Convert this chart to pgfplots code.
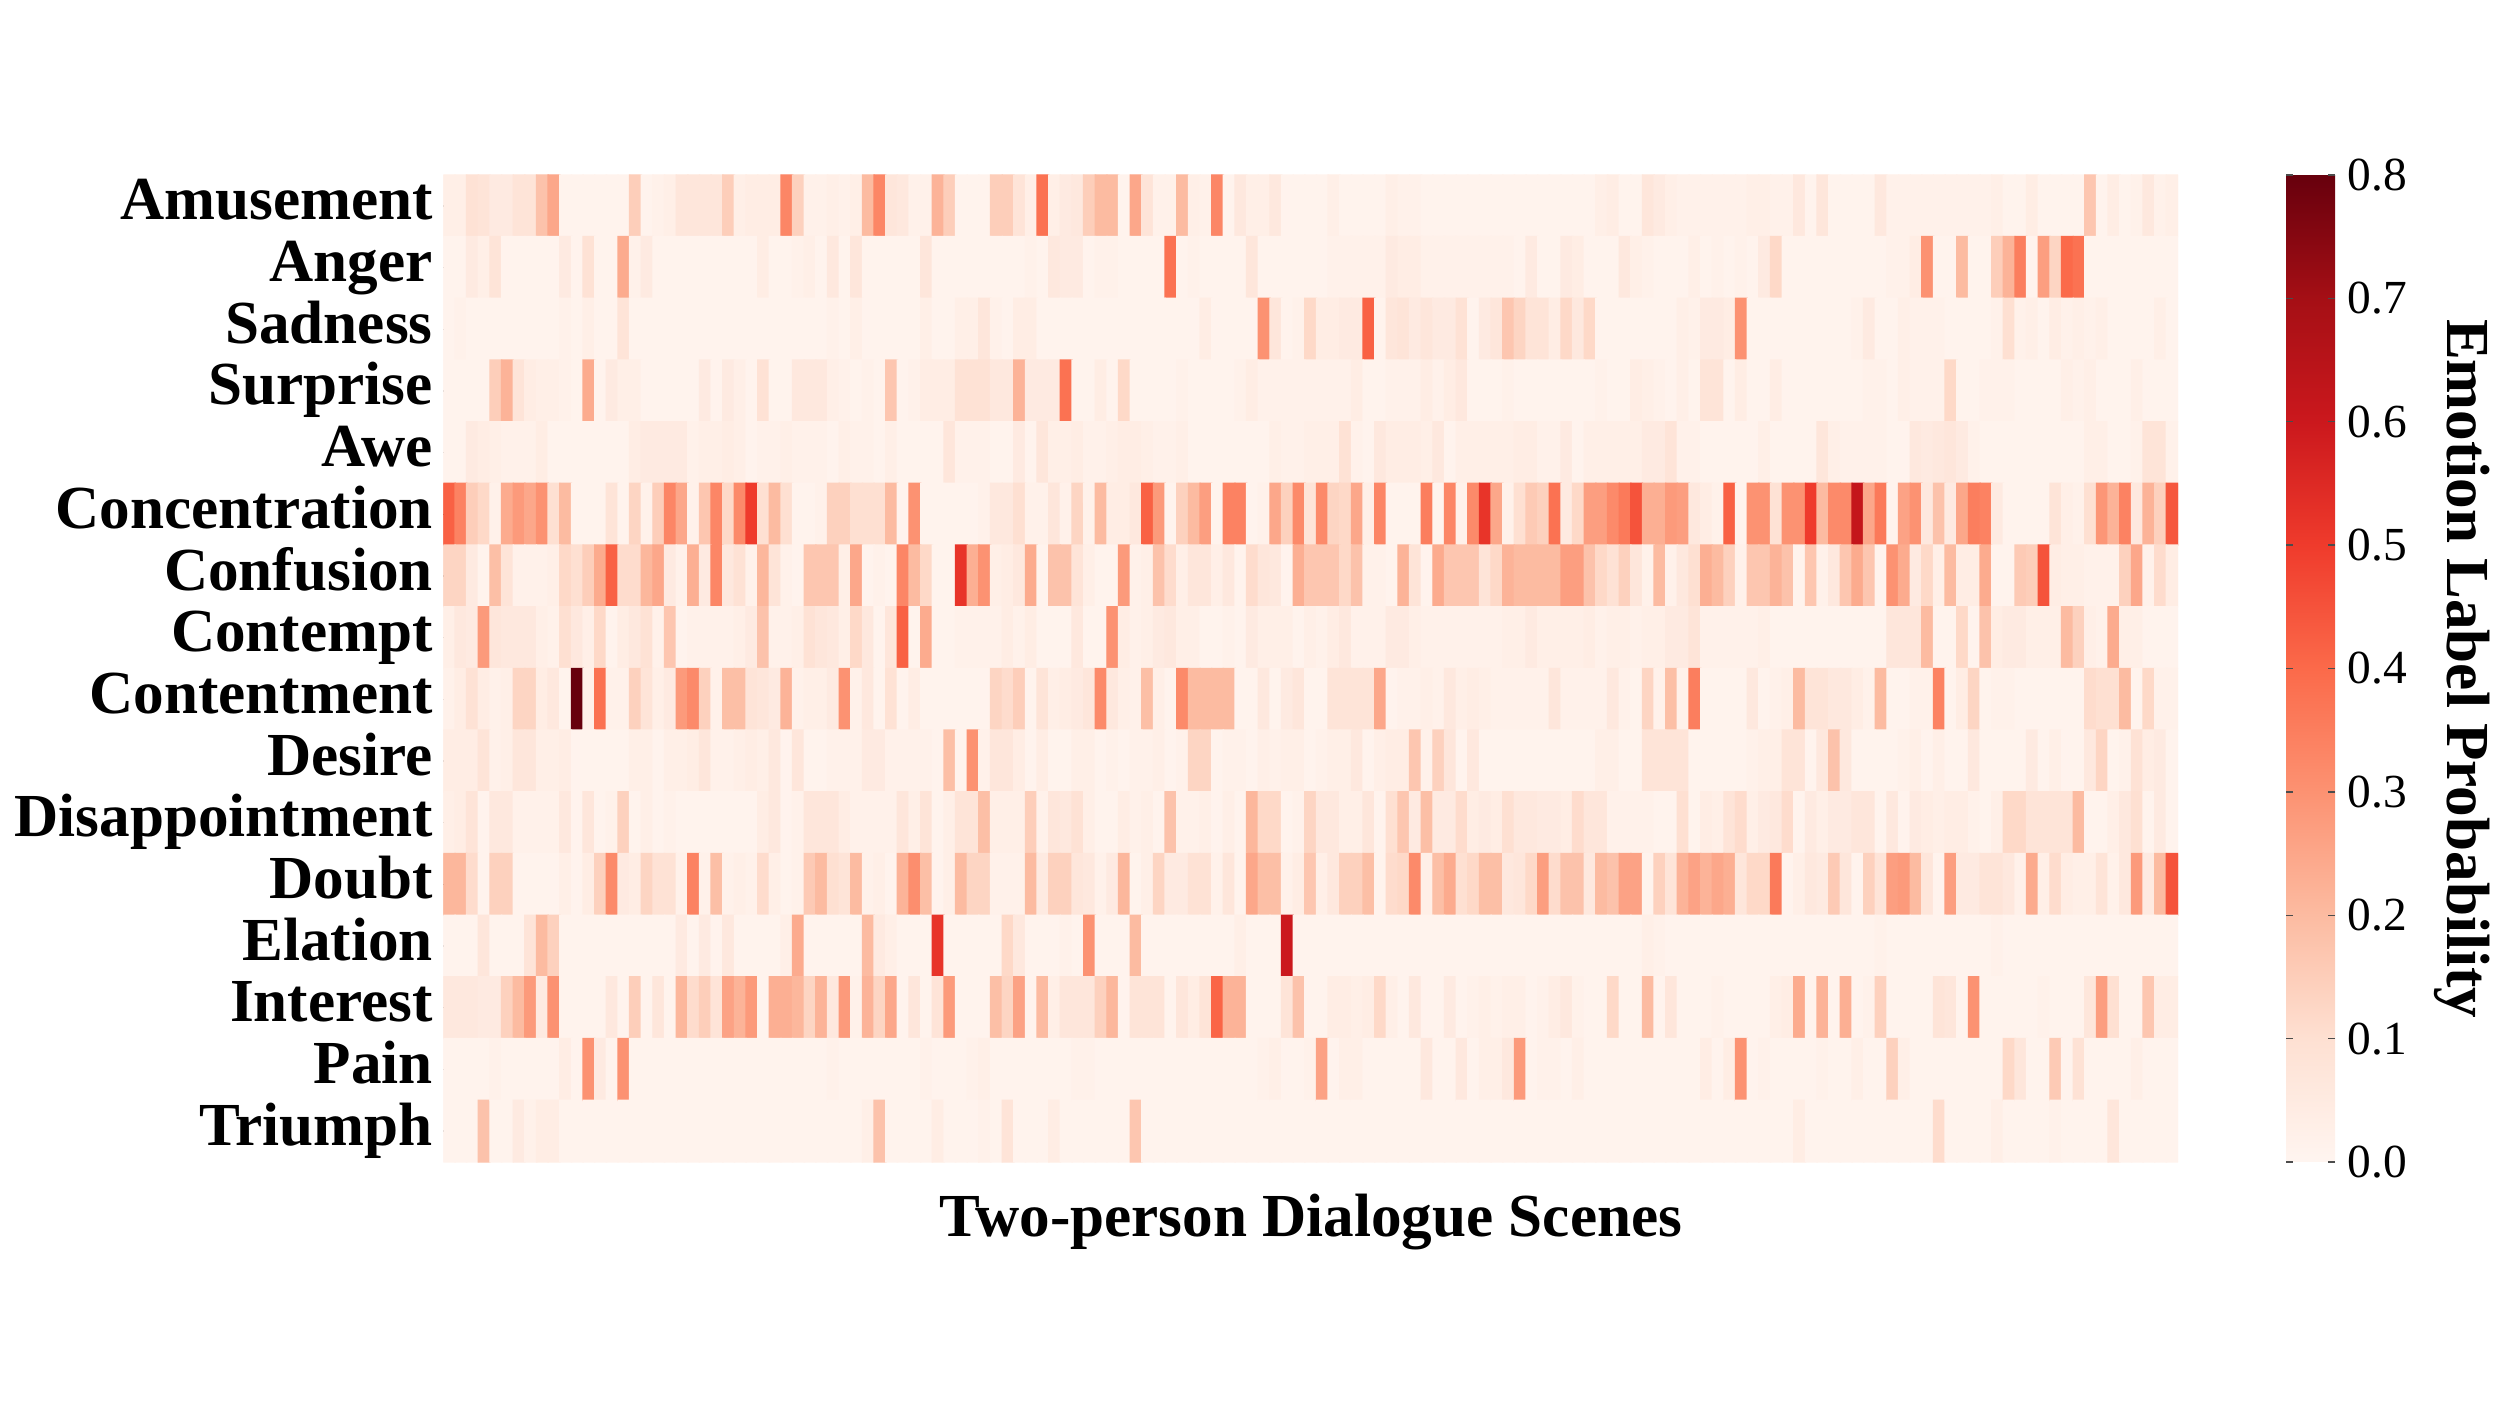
\documentclass[border=0pt]{standalone}
\usepackage{pgfplots}
\pgfplotsset{compat=1.18}
\usepackage{fontspec}
\setmainfont{Liberation Serif}
\pgfplotsset{colormap={hmreds}{rgb255=(255,245,240) rgb255=(254,224,210) rgb255=(252,187,161) rgb255=(252,146,114) rgb255=(251,106,74) rgb255=(239,59,44) rgb255=(203,24,29) rgb255=(165,15,21) rgb255=(103,0,13)}}
\newcommand{\lbl}{\bfseries\fontsize{17.4}{20}\selectfont}
\begin{document}
\begin{tikzpicture}
\path[use as bounding box] (0,0) rectangle (25cm,14.06cm);
\begin{axis}[
  at={(4.434cm,2.44cm)}, anchor=south west,
  scale only axis, width=17.346cm, height=9.87cm,
  xmin=-0.5, xmax=148.5, ymin=-0.5, ymax=15.5,
  y dir=reverse,
  xtick=\empty,
  ytick={0,1,...,15},
  yticklabels={Amusement,Anger,Sadness,Surprise,Awe,Concentration,Confusion,Contempt,Contentment,Desire,Disappointment,Doubt,Elation,Interest,Pain,Triumph},
  yticklabel style={font=\lbl, inner sep=0pt, text height=12pt, text depth=4pt, xshift=-0.10cm},
  major tick length=0.07cm,
  tick style={black!70, line width=0.4pt},
  tick pos=left,
  axis line style={draw=none},
  xlabel={\lbl Two-person Dialogue Scenes},
  xlabel style={at={(axis description cs:0.5,-0.061)}, anchor=center},
  colormap name=hmreds,
  point meta min=0, point meta max=0.8,
  colorbar,
  colorbar style={
    at={(1.0623,0)}, anchor=south west,
    width=0.49cm, height=9.87cm,
    ytick={0,0.1,0.2,0.3,0.4,0.5,0.6,0.7,0.8},
    yticklabel style={font=\fontsize{13.5}{16}\selectfont, /pgf/number format/fixed, /pgf/number format/fixed zerofill, /pgf/number format/precision=1, /pgf/number format/assume math mode=true, inner sep=0pt, xshift=0.12cm},
    major tick length=0.07cm,
    tick style={black!70, line width=0.4pt},
    axis line style={draw=none},
    ylabel={\lbl Emotion Label Probability},
    ylabel style={at={(axis description cs:3.6,0.5)}, anchor=center, rotate=180},
  },
]
% values are probabilities x 100, row by row (Amusement first), 149 per row
\addplot[matrix plot*, mesh/cols=149, point meta={\thisrowno{0}/100}] table[row sep=crcr, header=false, x expr={mod(\coordindex,149)}, y expr={floor((\coordindex+0.5)/149)}] {
3\\3\\9\\8\\5\\5\\8\\8\\18\\25\\
1\\1\\1\\1\\1\\1\\15\\1\\2\\3\\
7\\7\\7\\7\\15\\3\\4\\4\\4\\33\\
14\\2\\2\\3\\2\\3\\20\\33\\7\\6\\
2\\2\\22\\15\\1\\1\\1\\15\\15\\8\\
3\\38\\3\\5\\6\\15\\20\\20\\1\\25\\
8\\2\\2\\20\\3\\2\\33\\1\\6\\3\\
3\\6\\1\\1\\1\\1\\3\\1\\1\\1\\
1\\3\\2\\2\\1\\1\\1\\1\\1\\1\\
1\\1\\1\\1\\1\\1\\1\\1\\1\\3\\
4\\1\\1\\7\\5\\3\\2\\2\\2\\2\\
2\\2\\3\\3\\2\\2\\6\\1\\7\\1\\
1\\1\\1\\6\\2\\2\\2\\2\\2\\2\\
2\\2\\2\\3\\1\\1\\4\\1\\1\\1\\
1\\17\\1\\4\\1\\2\\6\\2\\3\\
1\\1\\5\\3\\8\\1\\1\\1\\1\\1\\
5\\1\\9\\1\\1\\24\\2\\5\\1\\1\\
1\\1\\1\\1\\1\\1\\1\\4\\1\\1\\
2\\3\\1\\6\\1\\7\\1\\1\\1\\1\\
1\\7\\1\\1\\1\\1\\1\\1\\1\\1\\
2\\1\\6\\5\\5\\1\\2\\2\\1\\1\\
1\\1\\38\\1\\2\\1\\1\\1\\1\\7\\
1\\1\\1\\1\\1\\1\\2\\2\\2\\2\\
2\\5\\4\\4\\2\\2\\2\\2\\2\\2\\
2\\2\\1\\5\\1\\1\\5\\4\\1\\1\\
1\\6\\3\\2\\1\\1\\1\\3\\1\\2\\
1\\2\\1\\5\\12\\1\\1\\1\\1\\1\\
1\\1\\1\\1\\2\\2\\4\\30\\1\\1\\
20\\1\\1\\15\\22\\35\\1\\27\\13\\40\\
38\\1\\1\\1\\1\\1\\1\\1\\1\\
1\\2\\1\\1\\1\\1\\1\\1\\1\\1\\
2\\1\\3\\1\\1\\8\\1\\1\\1\\1\\
1\\1\\1\\1\\1\\1\\1\\1\\1\\1\\
1\\1\\1\\2\\1\\3\\1\\1\\1\\1\\
1\\3\\1\\1\\3\\3\\7\\2\\1\\4\\
4\\1\\1\\1\\1\\1\\1\\1\\1\\1\\
1\\1\\1\\1\\1\\4\\1\\1\\1\\1\\
30\\7\\1\\2\\12\\4\\4\\5\\5\\42\\
1\\7\\8\\5\\7\\5\\5\\9\\1\\5\\
7\\17\\13\\8\\8\\4\\12\\6\\12\\1\\
1\\1\\1\\1\\1\\1\\3\\2\\5\\5\\
4\\30\\1\\1\\1\\1\\1\\1\\1\\1\\
1\\2\\5\\1\\1\\3\\2\\2\\2\\1\\
1\\1\\1\\2\\10\\2\\3\\1\\4\\2\\
3\\2\\3\\1\\1\\1\\1\\3\\1\\
1\\1\\1\\1\\15\\22\\8\\4\\3\\3\\
2\\1\\24\\1\\5\\3\\3\\1\\1\\1\\
1\\1\\5\\1\\5\\3\\1\\9\\1\\1\\
6\\6\\6\\3\\2\\1\\2\\1\\17\\1\\
2\\4\\4\\4\\9\\9\\9\\6\\6\\22\\
5\\5\\5\\38\\1\\1\\4\\1\\12\\1\\
1\\1\\1\\2\\1\\1\\1\\1\\2\\4\\
2\\2\\2\\2\\2\\2\\2\\2\\4\\1\\
1\\2\\2\\2\\4\\2\\4\\6\\1\\1\\
1\\2\\1\\1\\1\\1\\1\\1\\1\\2\\
1\\1\\4\\3\\2\\1\\3\\1\\8\\8\\
1\\4\\1\\1\\4\\1\\1\\1\\1\\1\\
1\\1\\2\\2\\1\\3\\2\\2\\2\\12\\
1\\1\\2\\2\\2\\1\\1\\1\\1\\3\\
2\\3\\1\\1\\1\\3\\1\\1\\1\\
1\\1\\5\\4\\3\\2\\2\\2\\4\\1\\
1\\1\\1\\1\\1\\1\\4\\5\\5\\5\\
5\\2\\3\\3\\4\\3\\1\\2\\2\\3\\
2\\2\\2\\1\\3\\2\\2\\1\\3\\1\\
1\\1\\1\\7\\2\\2\\2\\1\\1\\5\\
1\\7\\3\\3\\4\\2\\2\\3\\4\\4\\
3\\2\\2\\3\\1\\1\\1\\1\\1\\1\\
1\\3\\2\\2\\3\\3\\3\\9\\2\\1\\
6\\4\\4\\4\\3\\6\\1\\3\\3\\3\\
3\\3\\4\\4\\2\\2\\5\\1\\3\\3\\
3\\3\\3\\5\\5\\8\\2\\2\\1\\1\\
1\\1\\1\\3\\1\\1\\1\\1\\7\\3\\
2\\2\\2\\2\\1\\1\\6\\5\\6\\7\\
5\\2\\1\\1\\1\\1\\1\\1\\1\\1\\
1\\3\\3\\1\\1\\2\\8\\8\\2\\
42\\34\\15\\12\\2\\24\\28\\25\\30\\10\\
20\\1\\1\\1\\8\\1\\13\\2\\15\\33\\
25\\2\\17\\33\\12\\32\\50\\10\\20\\10\\
1\\1\\2\\14\\14\\10\\10\\10\\20\\1\\
30\\1\\1\\1\\1\\1\\2\\6\\6\\10\\
2\\2\\7\\2\\13\\2\\20\\4\\4\\6\\
42\\28\\1\\14\\20\\27\\1\\34\\34\\1\\
2\\25\\14\\32\\8\\32\\13\\12\\25\\3\\
33\\1\\1\\1\\35\\1\\33\\2\\32\\52\\
25\\2\\10\\16\\14\\38\\5\\12\\27\\27\\
32\\36\\45\\23\\23\\28\\27\\6\\4\\2\\
42\\1\\30\\30\\9\\30\\30\\50\\20\\32\\
32\\62\\25\\36\\1\\26\\30\\6\\18\\5\\
25\\35\\34\\5\\1\\1\\1\\1\\8\\3\\
2\\10\\29\\22\\34\\6\\22\\14\\44\\
13\\13\\5\\1\\19\\8\\2\\2\\2\\3\\
12\\10\\15\\24\\42\\11\\11\\21\\25\\5\\
2\\23\\5\\33\\6\\9\\2\\21\\8\\2\\
1\\17\\17\\17\\3\\25\\1\\2\\1\\33\\
20\\12\\1\\1\\52\\23\\30\\3\\4\\6\\
24\\1\\18\\18\\8\\3\\1\\1\\28\\2\\
3\\18\\11\\3\\7\\7\\3\\6\\1\\11\\
7\\6\\1\\23\\17\\17\\17\\12\\18\\2\\
2\\1\\22\\8\\1\\24\\17\\17\\17\\8\\
12\\22\\20\\20\\20\\20\\27\\27\\18\\12\\
9\\14\\7\\2\\20\\2\\6\\10\\23\\20\\
14\\2\\17\\17\\22\\18\\1\\17\\2\\6\\
17\\24\\17\\1\\30\\24\\5\\12\\3\\20\\
4\\4\\24\\1\\1\\16\\15\\45\\4\\3\\
3\\2\\2\\2\\14\\25\\2\\11\\4\\
3\\6\\5\\28\\7\\6\\6\\6\\3\\2\\
10\\6\\3\\12\\1\\4\\6\\9\\2\\17\\
1\\2\\2\\2\\2\\3\\5\\18\\2\\2\\
3\\9\\7\\6\\3\\12\\6\\1\\7\\42\\
1\\24\\1\\1\\2\\2\\2\\2\\4\\2\\
4\\1\\1\\1\\6\\1\\1\\30\\4\\2\\
3\\5\\6\\3\\3\\1\\1\\2\\1\\5\\
3\\3\\3\\1\\3\\2\\4\\6\\2\\2\\
2\\5\\5\\3\\2\\2\\2\\2\\2\\2\\
2\\3\\3\\5\\3\\3\\3\\3\\4\\2\\
3\\3\\2\\3\\3\\5\\5\\8\\2\\2\\
2\\2\\2\\3\\1\\1\\1\\1\\1\\1\\
1\\1\\1\\1\\7\\7\\7\\20\\1\\1\\
12\\1\\18\\4\\5\\5\\3\\3\\3\\20\\
14\\3\\2\\24\\3\\3\\1\\1\\1\\
2\\4\\9\\4\\2\\3\\13\\13\\4\\6\\
1\\80\\2\\38\\2\\2\\14\\8\\3\\5\\
28\\32\\14\\2\\19\\19\\8\\7\\5\\22\\
2\\3\\3\\5\\30\\2\\6\\1\\9\\1\\
4\\1\\1\\1\\1\\1\\1\\13\\11\\15\\
1\\8\\3\\4\\5\\7\\32\\6\\3\\2\\
19\\3\\1\\32\\20\\20\\20\\20\\1\\1\\
6\\1\\5\\7\\1\\1\\8\\8\\8\\8\\
25\\1\\2\\2\\3\\2\\6\\3\\4\\3\\
2\\2\\2\\2\\2\\7\\2\\2\\2\\2\\
6\\2\\1\\13\\2\\19\\2\\35\\1\\1\\
1\\1\\6\\1\\2\\3\\20\\8\\8\\6\\
6\\4\\2\\20\\1\\1\\2\\2\\34\\1\\
4\\13\\1\\2\\2\\1\\1\\1\\1\\1\\
1\\11\\10\\10\\20\\1\\12\\2\\2\\
4\\4\\4\\8\\2\\3\\7\\7\\3\\3\\
4\\1\\1\\1\\1\\1\\3\\3\\1\\3\\
3\\4\\7\\2\\2\\3\\4\\3\\6\\1\\
7\\1\\1\\2\\2\\2\\5\\5\\2\\2\\
2\\2\\1\\19\\1\\30\\2\\7\\7\\4\\
1\\4\\1\\1\\3\\3\\1\\2\\1\\2\\
2\\3\\1\\2\\13\\13\\1\\2\\2\\1\\
3\\2\\3\\3\\1\\2\\3\\3\\6\\1\\
3\\4\\4\\17\\2\\14\\7\\1\\6\\1\\
1\\1\\1\\1\\1\\1\\1\\1\\1\\3\\
3\\1\\1\\8\\8\\8\\8\\1\\1\\1\\
1\\1\\2\\3\\3\\8\\8\\1\\6\\18\\
6\\1\\1\\1\\1\\2\\3\\1\\3\\1\\
1\\6\\1\\1\\1\\1\\5\\1\\3\\1\\
1\\6\\13\\1\\2\\9\\4\\5\\1\\
3\\4\\8\\1\\6\\6\\2\\2\\2\\2\\
6\\1\\7\\1\\2\\14\\1\\3\\1\\2\\
1\\1\\1\\1\\1\\1\\1\\4\\6\\1\\
2\\7\\7\\7\\4\\2\\2\\2\\2\\7\\
3\\8\\1\\3\\8\\8\\19\\3\\3\\3\\
15\\2\\7\\6\\9\\3\\1\\1\\4\\2\\
3\\1\\18\\2\\2\\3\\1\\3\\1\\21\\
12\\12\\1\\2\\13\\6\\6\\3\\3\\7\\
1\\10\\17\\5\\19\\5\\5\\11\\4\\5\\
4\\10\\6\\6\\5\\5\\4\\11\\7\\7\\
2\\2\\2\\2\\1\\1\\10\\1\\4\\3\\
8\\11\\3\\5\\6\\11\\1\\5\\3\\5\\
5\\7\\7\\1\\6\\1\\5\\4\\3\\4\\
4\\2\\1\\3\\12\\12\\8\\8\\8\\8\\
20\\1\\1\\3\\6\\10\\1\\5\\1\\
21\\21\\11\\1\\14\\14\\1\\1\\1\\1\\
3\\1\\4\\14\\32\\5\\4\\13\\9\\9\\
2\\34\\2\\19\\2\\3\\2\\11\\3\\1\\
2\\16\\20\\10\\8\\20\\2\\3\\1\\22\\
31\\19\\1\\3\\20\\13\\13\\2\\2\\2\\
20\\5\\14\\14\\7\\6\\2\\5\\21\\1\\
3\\13\\5\\5\\9\\9\\2\\7\\1\\25\\
19\\19\\2\\4\\17\\3\\6\\14\\14\\19\\
1\\11\\12\\32\\3\\19\\24\\10\\12\\19\\
19\\6\\7\\12\\27\\11\\18\\18\\6\\20\\
18\\26\\26\\1\\14\\8\\22\\26\\22\\25\\
23\\7\\12\\12\\36\\1\\3\\6\\5\\16\\
7\\1\\14\\8\\27\\28\\20\\7\\1\\27\\
5\\5\\8\\8\\6\\2\\24\\3\\11\\4\\
3\\3\\8\\2\\6\\28\\5\\20\\45\\
1\\1\\1\\7\\1\\1\\1\\8\\20\\14\\
1\\1\\1\\1\\1\\1\\1\\1\\1\\1\\
5\\1\\5\\1\\6\\1\\1\\1\\1\\3\\
24\\1\\1\\1\\1\\1\\20\\5\\3\\1\\
1\\1\\52\\1\\1\\1\\1\\1\\12\\6\\
1\\1\\1\\2\\1\\30\\1\\1\\1\\20\\
1\\1\\1\\1\\1\\1\\1\\1\\3\\1\\
1\\1\\60\\1\\1\\1\\1\\1\\1\\1\\
1\\1\\1\\1\\1\\1\\1\\1\\1\\1\\
1\\1\\1\\1\\1\\1\\1\\1\\1\\1\\
1\\1\\1\\3\\2\\1\\1\\1\\1\\1\\
1\\1\\1\\1\\1\\1\\1\\1\\1\\1\\
1\\1\\1\\2\\1\\1\\1\\1\\1\\1\\
1\\1\\1\\2\\1\\1\\1\\1\\1\\1\\
1\\1\\1\\1\\1\\1\\1\\1\\1\\
6\\6\\6\\5\\5\\14\\20\\28\\5\\30\\
1\\1\\1\\1\\6\\1\\15\\1\\7\\1\\
21\\11\\15\\8\\26\\22\\28\\1\\23\\23\\
21\\13\\22\\6\\28\\2\\22\\13\\25\\1\\
7\\1\\8\\28\\1\\1\\1\\19\\13\\26\\
1\\20\\3\\7\\7\\7\\14\\21\\1\\8\\
8\\8\\1\\7\\4\\8\\41\\22\\22\\1\\
1\\1\\8\\18\\1\\1\\4\\4\\3\\4\\
12\\3\\1\\6\\1\\1\\5\\1\\2\\3\\
2\\3\\3\\1\\2\\4\\6\\2\\1\\1\\
12\\1\\1\\20\\1\\7\\1\\1\\1\\2\\
1\\1\\1\\1\\3\\4\\24\\1\\22\\1\\
23\\1\\2\\14\\1\\1\\1\\1\\8\\7\\
1\\30\\1\\1\\1\\1\\1\\2\\1\\1\\
1\\7\\27\\10\\1\\1\\17\\4\\4\\
1\\1\\1\\1\\2\\1\\1\\1\\1\\1\\
4\\1\\30\\5\\1\\30\\1\\1\\1\\1\\
1\\1\\1\\1\\1\\1\\1\\1\\1\\1\\
1\\1\\1\\2\\1\\1\\1\\1\\1\\1\\
1\\2\\1\\1\\1\\2\\3\\1\\1\\1\\
1\\1\\1\\1\\2\\2\\1\\1\\1\\1\\
1\\1\\1\\1\\1\\1\\1\\1\\1\\1\\
2\\3\\1\\1\\2\\26\\1\\3\\3\\1\\
1\\1\\1\\1\\6\\1\\1\\6\\1\\3\\
3\\6\\28\\1\\2\\2\\1\\3\\1\\1\\
1\\1\\1\\1\\1\\1\\1\\1\\4\\1\\
4\\30\\1\\2\\1\\1\\1\\1\\2\\1\\
1\\3\\1\\1\\14\\3\\1\\1\\1\\1\\
1\\1\\1\\1\\12\\7\\1\\1\\16\\1\\
9\\1\\1\\1\\1\\3\\1\\1\\1\\
1\\1\\1\\18\\1\\1\\5\\2\\4\\4\\
1\\1\\1\\1\\1\\1\\1\\1\\1\\1\\
1\\1\\1\\1\\1\\1\\1\\1\\1\\1\\
1\\1\\1\\1\\1\\1\\3\\18\\1\\1\\
1\\1\\4\\1\\1\\1\\2\\1\\8\\1\\
1\\1\\4\\1\\1\\1\\1\\1\\1\\17\\
1\\1\\1\\1\\1\\1\\1\\1\\1\\1\\
1\\1\\1\\1\\1\\1\\1\\1\\1\\1\\
1\\1\\1\\1\\1\\1\\1\\1\\1\\1\\
1\\1\\1\\1\\1\\1\\1\\1\\1\\1\\
1\\1\\1\\1\\1\\1\\1\\1\\1\\1\\
1\\1\\1\\1\\1\\1\\4\\1\\1\\1\\
1\\1\\1\\1\\1\\1\\1\\1\\11\\1\\
1\\1\\1\\3\\1\\1\\1\\1\\2\\1\\
1\\1\\1\\7\\1\\1\\1\\1\\1\\
};
\end{axis}
\end{tikzpicture}
\end{document}
